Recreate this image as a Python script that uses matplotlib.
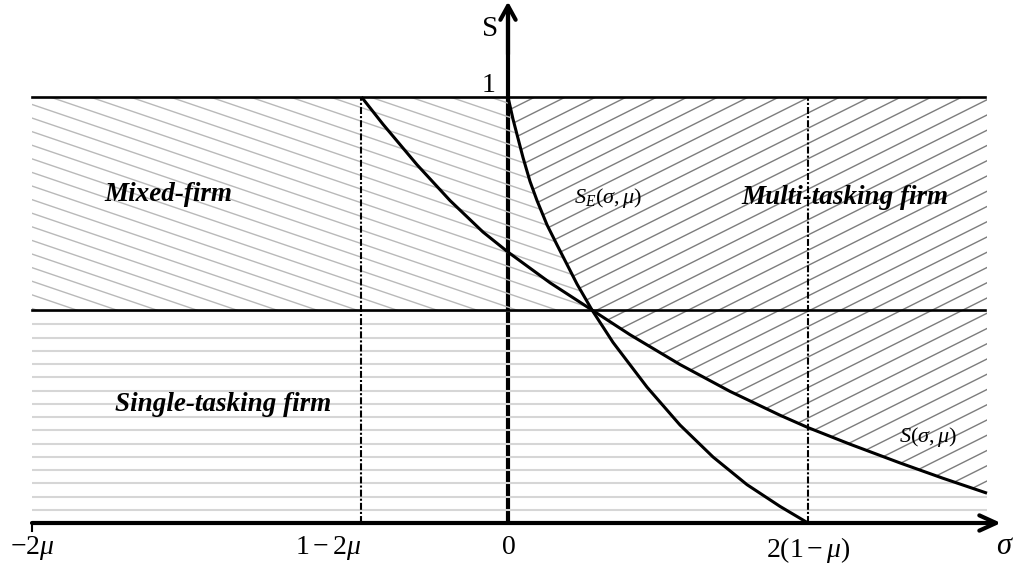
import numpy as np
import matplotlib
matplotlib.use("Agg")
import matplotlib.pyplot as plt
from matplotlib.patches import Polygon, FancyArrowPatch, ArrowStyle
from matplotlib.collections import LineCollection

plt.rcParams["mathtext.fontset"] = "custom"
plt.rcParams["mathtext.rm"] = "Liberation Serif"
plt.rcParams["mathtext.it"] = "Liberation Serif:italic"
plt.rcParams["mathtext.bf"] = "Liberation Serif:bold"
plt.rcParams["font.family"] = ["Liberation Serif", "DejaVu Serif"]
plt.rcParams["lines.scale_dashes"] = False

# ---------------- data (schematic units) ----------------
tick_positions = [-4.76, -1.465, 0.0, 3.00]
tick_labels = [r"$-2\mu$", r"$1-2\mu$", r"$0$", r"$2(1-\mu)$"]

se_sigma = [0.00, 0.05, 0.15, 0.22, 0.29, 0.39, 0.49, 0.69, 0.84, 1.05, 1.39, 1.72, 2.05, 2.39, 2.72, 3.00]
se_value = [1.000, 0.948, 0.858, 0.802, 0.757, 0.700, 0.653, 0.561, 0.500, 0.424, 0.319, 0.230, 0.155, 0.090, 0.039, 0.000]

s_sigma = [-1.465, -1.25, -0.91, -0.58, -0.25, 0.00, 0.42, 0.84, 1.22, 1.72, 2.22, 2.72, 3.00, 3.42, 3.92, 4.35, 4.79]
s_value = [1.000, 0.936, 0.841, 0.757, 0.683, 0.636, 0.564, 0.500, 0.442, 0.372, 0.309, 0.253, 0.224, 0.185, 0.141, 0.105, 0.070]

threshold = 0.5
s_top = 1.0
x_left, x_right = -4.76, 4.79

region_labels = ["Mixed-firm", "Multi-tasking firm", "Single-tasking firm"]
curve_labels = [r"$S_E(\sigma,\mu)$", r"$S(\sigma,\mu)$"]

# ---------------- figure ----------------
fig = plt.figure(figsize=(10.16, 5.73), dpi=100)
ax = fig.add_axes([0, 0, 1, 1])
ax.set_xlim(-5.08, 5.08)
ax.set_ylim(-50 / 426, 523 / 426)
ax.axis("off")

PX_X, PX_Y = 100.0, 426.0

se_sigma_a = np.array(se_sigma); se_value_a = np.array(se_value)
s_sigma_a = np.array(s_sigma); s_value_a = np.array(s_value)
se_up = se_value_a >= threshold
s_low = s_value_a <= threshold


def hatch(poly_xy, slope, spacing, phase, color, lw, z):
    patch = Polygon(poly_xy, closed=True, facecolor="none", edgecolor="none",
                    transform=ax.transData)
    u0, u1 = x_left * PX_X - 60, x_right * PX_X + 60
    vmin, vmax = -20, PX_Y + 20
    bs = [vmin - slope * u0, vmin - slope * u1, vmax - slope * u0, vmax - slope * u1]
    k0 = int(np.floor((min(bs) - phase) / spacing))
    k1 = int(np.ceil((max(bs) - phase) / spacing))
    segs = []
    for k in range(k0, k1 + 1):
        b = phase + k * spacing
        segs.append([(u0 / PX_X, (slope * u0 + b) / PX_Y),
                     (u1 / PX_X, (slope * u1 + b) / PX_Y)])
    lc = LineCollection(segs, colors=color, linewidths=lw, zorder=z,
                        capstyle="butt")
    ax.add_collection(lc)
    lc.set_clip_path(patch)


# polygons built from the curves
mixed_poly = ([(x_left, s_top)] + list(zip(se_sigma_a[se_up], se_value_a[se_up]))
              + [(x_left, threshold)])
multi_poly = (list(zip(se_sigma_a[se_up], se_value_a[se_up]))
              + list(zip(s_sigma_a[s_low], s_value_a[s_low]))
              + [(x_right, s_top)])
single_poly = ([(x_left, threshold)] + list(zip(s_sigma_a[s_low], s_value_a[s_low]))
               + [(x_right, 0), (x_left, 0)])

# y axis (under the hatching)
ax.plot([0, 0], [0, 1.20], color="black", lw=3.0, zorder=1, solid_capstyle="butt")

hatch(mixed_poly, -0.34, 13.6, 270.3, "#b9b9b9", 1.0, 2)
hatch(multi_poly, 0.50, 15.25, 412.5, "#7c7c7c", 1.0, 2)
hatch(single_poly, 0.0, 13.25, 212.0, "#d6d6d6", 1.5, 2)

# horizontal reference lines
ax.plot([x_left, x_right - 0.02], [s_top, s_top], color="black", lw=1.9, zorder=3)
ax.plot([x_left, x_right - 0.02], [threshold, threshold], color="black", lw=1.9, zorder=3)

# dashed verticals
for xv in (tick_positions[1], tick_positions[3]):
    ax.plot([xv, xv], [0, s_top], color="black", lw=1.5, zorder=3,
            linestyle=(0, (5, 1.5, 1.5, 1.5)))

# curves
ax.plot(se_sigma, se_value, color="black", lw=2.2, zorder=4,
        solid_capstyle="butt", solid_joinstyle="round")
ax.plot(s_sigma, s_value, color="black", lw=2.2, zorder=4,
        solid_capstyle="butt", solid_joinstyle="round")

# x axis with arrow
arr_style = ArrowStyle("->", head_length=12, head_width=5.5)
ax.add_patch(FancyArrowPatch((x_left, 0), (4.93, 0), arrowstyle=arr_style,
                             mutation_scale=1, lw=3.0, color="black",
                             shrinkA=0, shrinkB=0, zorder=5))
ax.plot([x_left, x_left], [0, -0.018], color="black", lw=1.5, zorder=5)
# y axis arrow head
ax.add_patch(FancyArrowPatch((0, 1.10), (0, 1.224),
                             arrowstyle=ArrowStyle("->", head_length=10, head_width=5.5),
                             mutation_scale=1, lw=3.0, color="black",
                             shrinkA=0, shrinkB=0, zorder=5))

# tick labels
label_y = (523 - 554) / 426
for pos, lab in zip(tick_positions, tick_labels):
    ha = "right" if lab == r"$1-2\mu$" else "center"
    yy = label_y - (3 / 426 if lab == r"$2(1-\mu)$" else 0)
    ax.text(pos, yy, lab, fontsize=20, ha=ha, va="baseline", zorder=6)
ax.text(4.97, label_y, r"$\sigma$", fontsize=22, ha="center", va="baseline", zorder=6)
ax.text(-0.18, 1.160, "S", fontsize=21, ha="center", va="center", zorder=6)
ax.text(-0.19, 1.028, "1", fontsize=20, ha="center", va="center", zorder=6)

# region labels
lab_kw = dict(fontsize=19.5, fontweight="bold", fontstyle="italic",
              ha="center", va="baseline", zorder=6)
ax.text(-3.40, (523 - 200.7) / 426, region_labels[0], **lab_kw)
ax.text(3.37, (523 - 204) / 426, region_labels[1], **lab_kw)
ax.text(-2.85, (523 - 410.7) / 426, region_labels[2], **lab_kw)

# curve labels
ax.text(1.00, 0.763, curve_labels[0], fontsize=16, ha="center", va="center", zorder=6)
ax.text(4.20, 0.202, curve_labels[1], fontsize=16, ha="center", va="center", zorder=6)

fig.savefig("out.png", dpi=100)
